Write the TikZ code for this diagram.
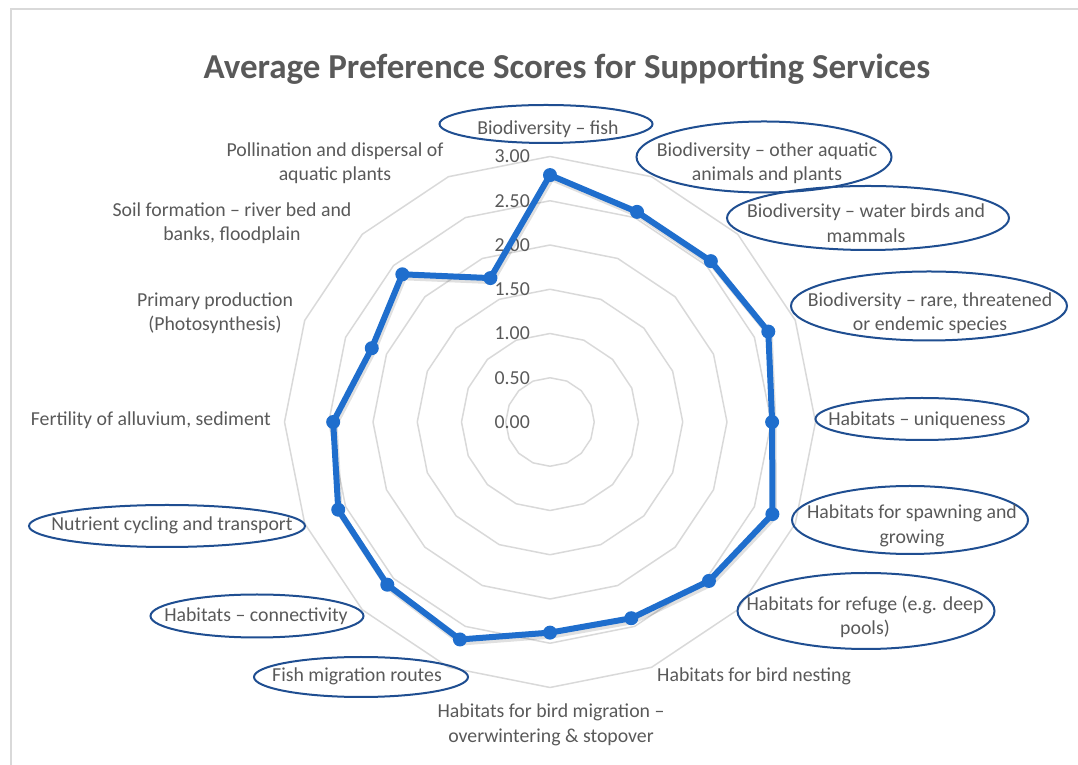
\documentclass[tikz,border=0pt]{standalone}
\usepackage{fontspec}
\setmainfont{Carlito}
\usetikzlibrary{shapes.geometric}
\definecolor{txtgray}{RGB}{89,89,89}
\definecolor{gridgray}{RGB}{217,217,217}
\definecolor{serblue}{RGB}{31,110,205}
\definecolor{ovalblue}{RGB}{31,78,145}
\begin{document}
\begin{tikzpicture}[x=1pt,y=1pt,
		ringline/.style={gridgray,line width=1.5pt,line join=round},
		series/.style={serblue,line width=6pt,line join=round},
		dot/.style={circle,fill=serblue,inner sep=0pt,minimum size=14pt},
		oval/.style={ellipse,draw=ovalblue,line width=2pt,inner sep=0pt},
		lbl/.style={text=txtgray,font=\fontsize{19.8}{24.5}\selectfont,align=center,inner sep=0pt},
		scalelbl/.style={lbl,anchor=east}]
	\useasboundingbox (0,0) rectangle (1078,765);
	\draw[gridgray,line width=2pt] (11,0) -- (11,756) -- (1078,756);
	\node[text=txtgray,font=\fontsize{35}{40}\selectfont\bfseries] (title) at (567,696) {Average Preference Scores for Supporting Services};
	\begin{scope}[shift={(550,343)}]
		% rings every 0.50
		\foreach \k [evaluate=\k as \r using 44.25*\k] in {1,...,6}
			\draw[ringline] (90:\r) \foreach \i in {1,...,15} {-- ({90-22.5*\i}:\r)} -- cycle;
		\foreach \v [count=\k from 0] in {0.00,0.50,1.00,1.50,2.00,2.50,3.00}
			\node[scalelbl] (s\k) at (-20,{44.25*\k}) {\v};
		\foreach \v [count=\i from 0] in {2.79,2.57,2.57,2.67,2.51,2.72,2.54,2.40,2.38,2.66,2.60,2.59,2.45,2.18,2.36,1.76}
			\coordinate (p\i) at ({90-22.5*\i}:{88.5*\v});
		\draw[series,black,opacity=0.12,transform canvas={shift={(1.5pt,-3pt)}}] (p0) \foreach \i in {1,...,15} {-- (p\i)} -- cycle;
		\draw[series] (p0) \foreach \i in {1,...,15} {-- (p\i)} -- cycle;
		\foreach \i in {0,...,15}
			\node[dot] (m\i) at (p\i) {};
	\end{scope}
	\node[oval,minimum width=213,minimum height=38] (e1) at (546,641) {};
	\node[lbl] (t1) at (548,636) {Biodiversity – fish};
	\node[oval,minimum width=255,minimum height=71] (e2) at (764,608) {};
	\node[lbl] (t2) at (767,602) {Biodiversity – other aquatic\\animals and plants};
	\node[oval,minimum width=282,minimum height=64] (e3) at (868,547) {};
	\node[lbl] (t3) at (866,542) {Biodiversity – water birds and\\mammals};
	\node[oval,minimum width=276,minimum height=69] (e4) at (929,459) {};
	\node[lbl] (t4) at (930,452) {Biodiversity – rare, threatened\\or endemic species};
	\node[oval,minimum width=213,minimum height=42] (e5) at (922,346) {};
	\node[lbl] (t5) at (917,345) {Habitats – uniqueness};
	\node[oval,minimum width=236,minimum height=68] (e6) at (910,245) {};
	\node[lbl] (t6) at (912,239) {Habitats for spawning and\\growing};
	\node[oval,minimum width=257,minimum height=76] (e7) at (866,154) {};
	\node[lbl] (t7) at (865,148) {Habitats for refuge (e.g. deep\\pools)};
	\node[lbl,anchor=west] (t8) at (657,89) {Habitats for bird nesting};
	\node[lbl] (t9) at (551,40) {Habitats for bird migration –\\overwintering \& stopover};
	\node[oval,minimum width=214,minimum height=40] (e10) at (361,88) {};
	\node[lbl] (t10) at (357,89) {Fish migration routes};
	\node[oval,minimum width=213,minimum height=43] (e11) at (257,149) {};
	\node[lbl] (t11) at (256,149) {Habitats – connectivity};
	\node[oval,minimum width=276,minimum height=42] (e12) at (167,239) {};
	\node[lbl] (t12) at (172,240) {Nutrient cycling and transport};
	\node[lbl,anchor=east] (t13) at (271,345) {Fertility of alluvium, sediment};
	\node[lbl] (t14) at (215,452) {Primary production\\(Photosynthesis)};
	\node[lbl] (t15) at (232,542) {Soil formation – river bed and\\banks, floodplain};
	\node[lbl] (t16) at (335,602) {Pollination and dispersal of\\aquatic plants};
\end{tikzpicture}
\end{document}
